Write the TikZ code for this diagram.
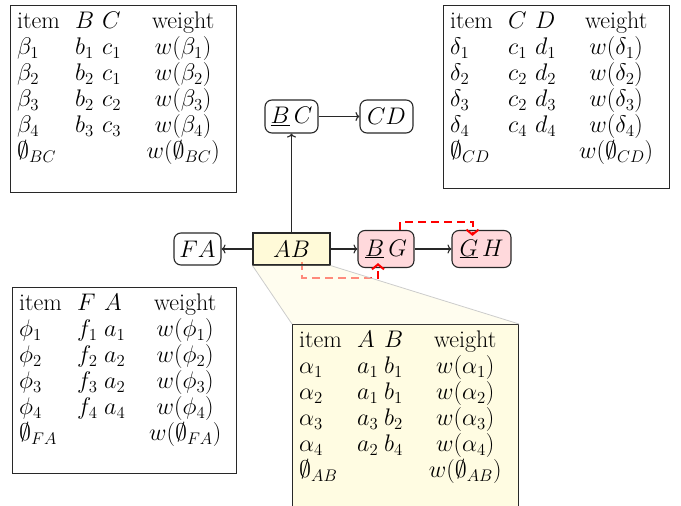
\RequirePackage{fix-cm}
\documentclass[tikz,border=0pt]{standalone}
\usepackage{array}
\usetikzlibrary{arrows.meta}
\pgfdeclarelayer{redl}
\pgfdeclarelayer{ovl}
\pgfdeclarelayer{topl}
\pgfsetlayers{main,redl,ovl,topl}
\definecolor{pinkfill}{RGB}{255,217,220}
\definecolor{abtab}{RGB}{255,252,226}
\definecolor{abnode}{RGB}{255,246,190}
\definecolor{callout}{RGB}{255,252,225}
\definecolor{lncol}{RGB}{40,40,40}
\newcolumntype{Q}{@{}p{58pt}@{}p{27pt}@{}p{35pt}@{}>{\centering\arraybackslash}p{92pt}@{}}
\tikzset{
  tblbox/.style={draw=lncol, line width=1.1pt, inner sep=0pt, anchor=north west, minimum width=226pt, minimum height=187pt},
  tbltext/.style={anchor=north west, inner sep=0pt, font=\fontsize{24}{26}\selectfont},
  gnode/.style={draw=lncol, line width=1.1pt, inner sep=0pt, rounded corners=7pt, fill=white, font=\fontsize{24}{26}\selectfont},
  pinknode/.style={gnode, fill=pinkfill},
  conn/.style={draw=lncol, line width=1.1pt, -{To[length=4pt,width=9pt]}},
  hl/.style={draw=red, line width=2pt, dash pattern=on 8pt off 5pt, -{Straight Barb[length=5pt,width=12pt]}},
}
\begin{document}
\begin{tikzpicture}[x=1pt,y=-1pt]
\clip (0,0) rectangle (681,506);
% tables
\node[tblbox] (tBC) at (10,5) {};
\node[tbltext] (cBC) at ([xshift=7pt,yshift=-5pt]tBC.north west) {\begin{tabular}{Q}
item & $B$ & $C$ & weight\\
$\beta_1$ & $b_1$ & $c_1$ & $w(\beta_1)$\\
$\beta_2$ & $b_2$ & $c_1$ & $w(\beta_2)$\\
$\beta_3$ & $b_2$ & $c_2$ & $w(\beta_3)$\\
$\beta_4$ & $b_3$ & $c_3$ & $w(\beta_4)$\\
$\emptyset_{BC}$ & & & $w(\emptyset_{BC})$
\end{tabular}};
\node[tblbox, minimum height=183pt] (tCD) at (443,5) {};
\node[tbltext] (cCD) at ([xshift=7pt,yshift=-5pt]tCD.north west) {\begin{tabular}{Q}
item & $C$ & $D$ & weight\\
$\delta_1$ & $c_1$ & $d_1$ & $w(\delta_1)$\\
$\delta_2$ & $c_2$ & $d_2$ & $w(\delta_2)$\\
$\delta_3$ & $c_2$ & $d_3$ & $w(\delta_3)$\\
$\delta_4$ & $c_4$ & $d_4$ & $w(\delta_4)$\\
$\emptyset_{CD}$ & & & $w(\emptyset_{CD})$
\end{tabular}};
\node[tblbox, minimum width=224pt, minimum height=186pt] (tFA) at (12,287) {};
\node[tbltext] (cFA) at ([xshift=7pt,yshift=-5pt]tFA.north west) {\begin{tabular}{Q}
item & $F$ & $A$ & weight\\
$\phi_1$ & $f_1$ & $a_1$ & $w(\phi_1)$\\
$\phi_2$ & $f_2$ & $a_2$ & $w(\phi_2)$\\
$\phi_3$ & $f_3$ & $a_2$ & $w(\phi_3)$\\
$\phi_4$ & $f_4$ & $a_4$ & $w(\phi_4)$\\
$\emptyset_{FA}$ & & & $w(\emptyset_{FA})$
\end{tabular}};
\node[tblbox, fill=abtab] (tAB) at (292,324) {};
\node[tbltext] (cAB) at ([xshift=7pt,yshift=-5pt]tAB.north west) {\begin{tabular}{Q}
item & $A$ & $B$ & weight\\
$\alpha_1$ & $a_1$ & $b_1$ & $w(\alpha_1)$\\
$\alpha_2$ & $a_1$ & $b_1$ & $w(\alpha_2)$\\
$\alpha_3$ & $a_3$ & $b_2$ & $w(\alpha_3)$\\
$\alpha_4$ & $a_2$ & $b_4$ & $w(\alpha_4)$\\
$\emptyset_{AB}$ & & & $w(\emptyset_{AB})$
\end{tabular}};
% graph nodes
\node[gnode, minimum width=47pt, minimum height=32pt] (FA) at (197.5,249) {$FA$};
\node[pinknode, minimum width=56pt, minimum height=37pt] (BG) at (386,249) {$\underline{B}\,G$};
\node[pinknode, minimum width=59pt, minimum height=37pt] (GH) at (481.5,249) {$\underline{G}\,H$};
\node[gnode, minimum width=53pt, minimum height=33pt] (BC) at (291.5,116.5) {$\underline{B}\,C$};
\node[gnode, minimum width=53pt, minimum height=33pt] (CD) at (386.5,116.5) {$CD$};
\begin{pgfonlayer}{ovl}
\node[gnode, rounded corners=0pt, minimum width=77pt, minimum height=32pt, fill=abnode, fill opacity=0.6, text opacity=1] (AB) at (291.5,249) {$AB$};
\fill[callout, fill opacity=0.55] (AB.south west) -- (AB.south east) -- (tAB.north east) -- (tAB.north west) -- cycle;
\draw[black!20, line width=0.8pt] (AB.south west) -- (tAB.north west) (AB.south east) -- (tAB.north east);
\end{pgfonlayer}
\begin{pgfonlayer}{redl}
\draw[hl] ([xshift=14pt]BG.north) -- ++(0,-8) -| ([xshift=-9pt,yshift=-6pt]GH.north);
\draw[hl] ([xshift=10.5pt,yshift=4pt]AB.south) -- ++(0,16) -| ([xshift=-8pt,yshift=5pt]BG.south);
\end{pgfonlayer}
\begin{pgfonlayer}{topl}
\draw[conn] (AB) -- (BC);
\draw[conn] (BC) -- (CD);
\draw[conn] (AB) -- (FA);
\draw[conn] (AB) -- (BG);
\draw[conn] (BG) -- (GH);
\end{pgfonlayer}
\end{tikzpicture}
\end{document}
